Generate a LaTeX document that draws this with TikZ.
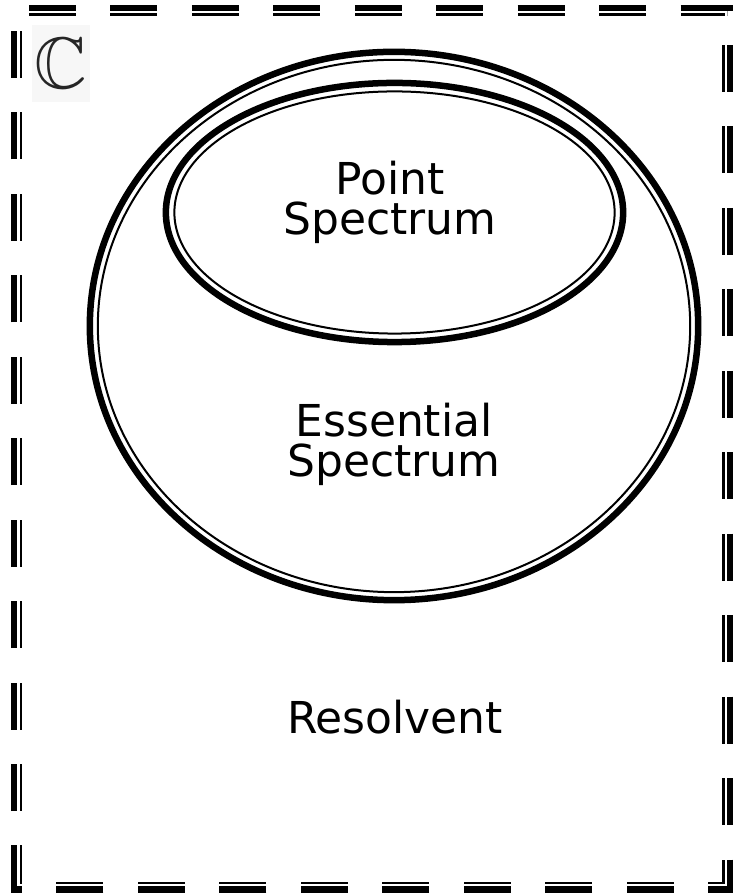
\documentclass[tikz,border=0pt]{standalone}
\usepackage{amssymb}
\usepackage{fontspec}
\setmainfont{DejaVu Sans}

\begin{document}
\begin{tikzpicture}[
  x=0.01cm, y=-0.01cm,
  rim/.style={line width=0.065cm},
  trim/.style={line width=0.02cm},
  frame/.style={line width=0.11cm,dash pattern=on 4.7mm off 3.44mm,dash phase=6.89mm},
  gap/.style={white,line width=0.02cm},
  lbl/.style={font=\fontsize{12.5}{11.4}\selectfont,align=center,anchor=base},
]
\useasboundingbox (0,0) rectangle (733,895);

% the complex plane
\coordinate (nw) at (16.5,10.5);
\coordinate (ne) at (727.5,10.5);
\coordinate (se) at (727.5,887);
\coordinate (sw) at (16.5,887);
\draw[frame] (nw) -- (ne) -- (se) -- (sw) -- cycle;
\draw[gap] (18.5,12.5) rectangle (725.5,885);

% essential spectrum
\draw[rim]  (394,326) ellipse [x radius=3.04cm,y radius=2.74cm];
\draw[trim] (394,326) ellipse [x radius=2.96cm,y radius=2.66cm];

% point spectrum
\draw[rim]  (394.5,212.5) ellipse [x radius=2.285cm,y radius=1.295cm];
\draw[trim] (394.5,212.5) ellipse [x radius=2.2cm,y radius=1.21cm];

% labels (base = last line)
\node[fill=black!3,minimum width=0.58cm,minimum height=0.77cm,inner sep=0pt,
  text=black!85,font=\fontsize{20.74}{24}\selectfont] (plane) at (61,63.5) {$\mathbb{C}$};
\node[lbl] (point) at (390,235) {Point\\Spectrum};
\node[lbl] (ess)   at (394,477) {Essential\\Spectrum};
\node[lbl] (res)   at (395,733) {Resolvent};
\end{tikzpicture}
\end{document}
